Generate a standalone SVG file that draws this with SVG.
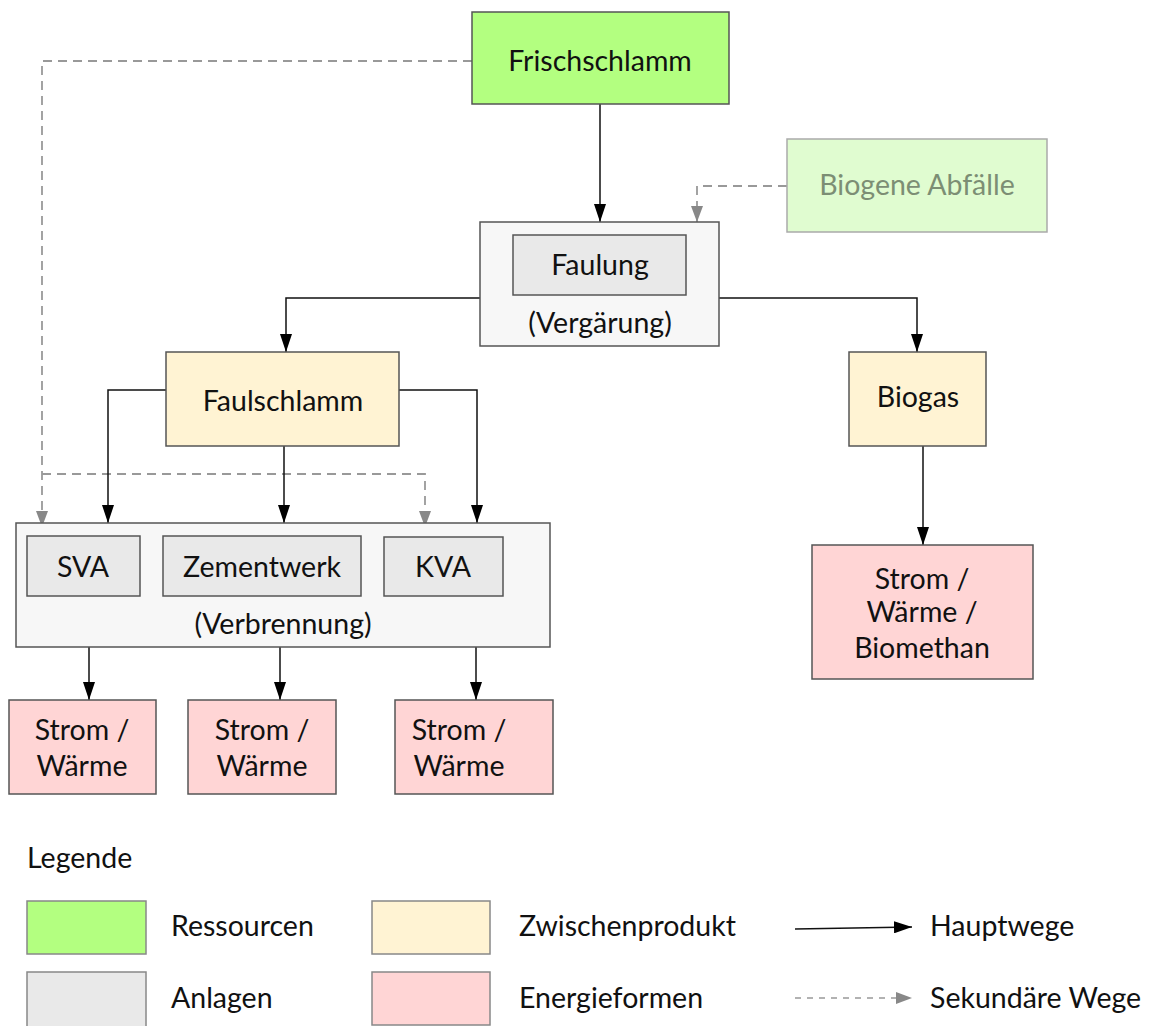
<svg xmlns="http://www.w3.org/2000/svg" width="1156" height="1026" viewBox="0 0 1156 1026">
<style>
text{font-family:Lato,"Open Sans","Liberation Sans",sans-serif;font-size:28.5px;fill:#111;text-anchor:middle}
.box{stroke:#555;stroke-width:1.5}
.res{fill:#b3ff80}
.zw{fill:#fff3d3}
.en{fill:#ffd5d5}
.an{fill:#e9e9e9}
.grp{fill:#f7f7f7}
.bio{fill:#e0fcd0;stroke:#aaa;stroke-width:1.5}
.main{fill:none;stroke:#111;stroke-width:1.5;marker-end:url(#ah)}
.sec{fill:none;stroke:#999;stroke-width:1.8;stroke-dasharray:9 6;marker-end:url(#ag)}
.lg{text-anchor:start}
</style>
<defs>
<marker id="ah" markerWidth="18" markerHeight="12" refX="18" refY="6" orient="auto" markerUnits="userSpaceOnUse" viewBox="0 0 18 12"><path d="M0,0 L18,6 L0,12 Z" fill="#000"/></marker>
<marker id="ag" markerWidth="16" markerHeight="12" refX="16" refY="6" orient="auto" markerUnits="userSpaceOnUse" viewBox="0 0 16 12"><path d="M0,0 L16,6 L0,12 Z" fill="#888"/></marker>
</defs>

<g id="connectors">
<path class="sec" d="M472,61 H42 V527"/>
<path class="sec" d="M42,474 H425 V527"/>
<path class="sec" d="M787,186 H697 V222"/>
<path class="main" d="M600,104 V222"/>
<path class="main" d="M480,298 H286 V352"/>
<path class="main" d="M719,298 H917 V352"/>
<path class="main" d="M166,390 H108 V523"/>
<path class="main" d="M284,446 V523"/>
<path class="main" d="M399,390 H477 V523"/>
<path class="main" d="M89,647 V700"/>
<path class="main" d="M280,647 V700"/>
<path class="main" d="M476,647 V700"/>
<path class="main" d="M923,446 V545"/>
</g>

<g id="frischschlamm"><rect class="box res" x="472" y="12" width="257" height="92"/><text x="600" y="71">Frischschlamm</text></g>
<g id="biogene-abfaelle"><rect class="bio" x="787" y="139" width="260" height="93"/><text x="917" y="195" style="fill:#7c8e74">Biogene Abfälle</text></g>
<g id="vergaerung"><rect class="box grp" x="480" y="222" width="239" height="124"/><text x="600" y="333">(Vergärung)</text></g>
<g id="faulung"><rect class="box an" x="513" y="235" width="173" height="60"/><text x="600" y="275">Faulung</text></g>
<g id="faulschlamm"><rect class="box zw" x="166" y="352" width="233" height="94"/><text x="283" y="411">Faulschlamm</text></g>
<g id="biogas"><rect class="box zw" x="849" y="352" width="137" height="94"/><text x="918" y="407">Biogas</text></g>
<g id="verbrennung"><rect class="box grp" x="16" y="523" width="534" height="124"/><text x="283" y="634">(Verbrennung)</text></g>
<g id="sva"><rect class="box an" x="27" y="536" width="113" height="60"/><text x="83" y="577">SVA</text></g>
<g id="zementwerk"><rect class="box an" x="163" y="536" width="198" height="60"/><text x="262" y="577">Zementwerk</text></g>
<g id="kva"><rect class="box an" x="384" y="537" width="119" height="59"/><text x="443" y="577">KVA</text></g>
<g id="energie1"><rect class="box en" x="9" y="700" width="147" height="94"/><text x="82" y="740">Strom /</text><text x="82" y="776">Wärme</text></g>
<g id="energie2"><rect class="box en" x="188" y="700" width="148" height="94"/><text x="262" y="740">Strom /</text><text x="262" y="776">Wärme</text></g>
<g id="energie3"><rect class="box en" x="395" y="700" width="158" height="94"/><text x="459" y="740">Strom /</text><text x="459" y="776">Wärme</text></g>
<g id="energie4"><rect class="box en" x="812" y="545" width="221" height="134"/><text x="922" y="589">Strom /</text><text x="922" y="622">Wärme /</text><text x="922" y="658">Biomethan</text></g>

<g id="legende">
<text class="lg" x="27" y="868">Legende</text>
<rect class="box res" x="27" y="901" width="119" height="53" style="stroke:#888"/><text class="lg" x="171" y="936">Ressourcen</text>
<rect class="box an" x="27" y="972" width="119" height="60" style="stroke:#888"/><text class="lg" x="171" y="1008">Anlagen</text>
<rect class="box zw" x="372" y="901" width="118" height="53" style="stroke:#888"/><text class="lg" x="519" y="936">Zwischenprodukt</text>
<rect class="box en" x="372" y="972" width="118" height="53" style="stroke:#888"/><text class="lg" x="519" y="1008">Energieformen</text>
<line x1="795" y1="929" x2="912" y2="927" stroke="#111" stroke-width="1.5" marker-end="url(#ah)"/><text class="lg" x="930" y="936">Hauptwege</text>
<line x1="795" y1="998" x2="912" y2="998" stroke="#999" stroke-width="1.5" stroke-dasharray="6 6" marker-end="url(#ag)"/><text class="lg" x="930" y="1008">Sekundäre Wege</text>
</g>
</svg>
